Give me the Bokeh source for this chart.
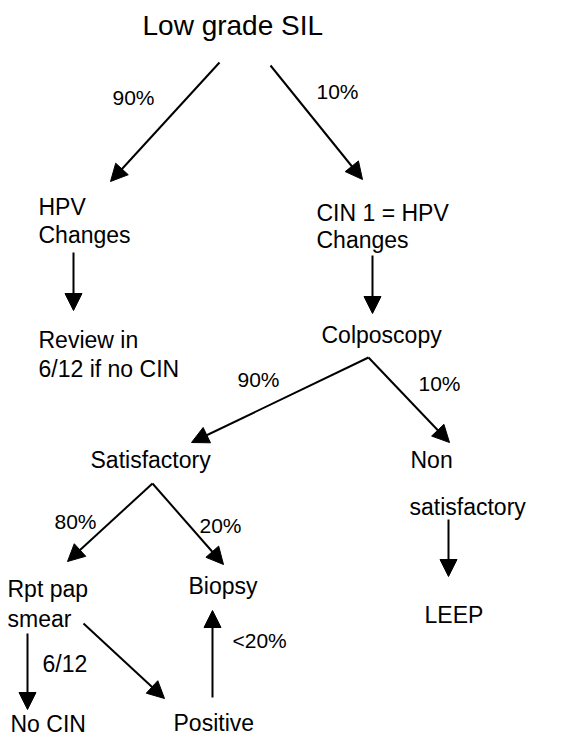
from bokeh.plotting import figure
from bokeh.models import ColumnDataSource, Range1d, Arrow, NormalHead
from bokeh.core.properties import value
from bokeh.embed import file_html
from bokeh.resources import INLINE

# ---- node texts (left x, baseline y in diagram units) ----
title_text = ["Low grade SIL"]
title_x = [142]
title_y = [35]

node_text = ["HPV", "Changes", "CIN 1 = HPV", "Changes", "Review in", "6/12 if no CIN",
             "Colposcopy", "Satisfactory", "Non", "satisfactory", "Rpt pap", "smear",
             "Biopsy", "LEEP", "No CIN", "Positive"]
node_x = [38, 38, 316, 316, 38, 38, 321, 90, 410, 409, 7, 7, 188, 424, 10, 173]
node_y = [215, 243, 221, 248, 348, 377, 343, 468, 468, 515, 597, 627, 594, 623, 732, 731]

# ---- edge labels ----
edge_label = ["90%", "10%", "90%", "10%", "80%", "20%", "<20%"]
edge_label_x = [112, 316, 237, 418, 54, 199, 232]
edge_label_y = [104, 98, 386, 390, 528, 532, 647]

interval_label = ["6/12"]
interval_x = [42]
interval_y = [672]

# ---- arrows (start -> tip) ----
arrow_x0 = [219, 270, 73, 372, 368, 368, 152, 152, 448, 27, 83, 212]
arrow_y0 = [62, 65, 252, 255, 357, 357, 483, 483, 519, 633, 623, 697]
arrow_x1 = [110, 362, 73, 372, 191, 449, 67, 223, 448, 27, 164, 212]
arrow_y1 = [181, 179, 310, 313, 442, 442, 561, 564, 576, 709, 698, 610]

p = figure(width=554, height=738, output_backend="svg", toolbar_location=None,
           x_range=Range1d(0, 554), y_range=Range1d(738, 0),
           min_border=0, min_border_left=0, min_border_right=0,
           min_border_top=0, min_border_bottom=0)
p.xaxis.visible = False
p.yaxis.visible = False
p.xgrid.visible = False
p.ygrid.visible = False
p.outline_line_color = None
p.background_fill_color = "white"
p.border_fill_color = "white"

font = value("Liberation Sans")


def baseline(ys, size):
    # the renderer sets text about 0.35 em below the given baseline
    return [v - 0.35 * size for v in ys]


p.text(x=title_x, y=baseline(title_y, 28), text=title_text, text_font=font,
       text_font_size="28px", text_baseline="alphabetic", text_align="left",
       text_color="black")

p.text(x=node_x, y=baseline(node_y, 23), text=node_text, text_font=font,
       text_font_size="23px", text_baseline="alphabetic", text_align="left",
       text_color="black")

p.text(x=edge_label_x, y=baseline(edge_label_y, 21), text=edge_label, text_font=font,
       text_font_size="21px", text_baseline="alphabetic", text_align="left",
       text_color="black")

p.text(x=interval_x, y=baseline(interval_y, 23), text=interval_label, text_font=font,
       text_font_size="23px", text_baseline="alphabetic", text_align="left",
       text_color="black")

src = ColumnDataSource(dict(x0=arrow_x0, y0=arrow_y0, x1=arrow_x1, y1=arrow_y1))
p.add_layout(Arrow(end=NormalHead(size=17, fill_color="black", line_color="black", line_width=1),
                   x_start="x0", y_start="y0", x_end="x1", y_end="y1",
                   line_width=2, line_color="black", source=src))

open("out.html", "w").write(file_html(p, INLINE))
